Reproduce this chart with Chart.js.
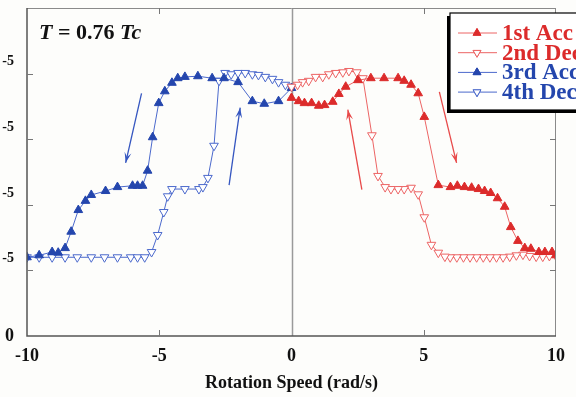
<!DOCTYPE html>
<html><head><meta charset="utf-8">
<script src="https://cdn.jsdelivr.net/npm/chart.js@4/dist/chart.umd.min.js"></script>
<style>html,body{margin:0;padding:0;background:#fdfdfb;}canvas{display:block;}</style>
</head><body>
<canvas id="c" width="576" height="397"></canvas>
<script>
// ---- data ----
const seriesNames = ["1st Acc", "2nd Dec", "3rd Acc", "4th Dec"];
const acc1X = [0,0.27,0.49,0.76,1.03,1.25,1.56,1.79,2.05,2.51,3.0,3.5,4.03,4.26,4.52,4.79,5.02,5.55,6.01,6.27,6.54,6.81,7.07,7.30,7.53,7.79,8.06,8.29,8.56,8.82,9.05,9.35,9.58,9.85,10];
const acc1Y = [3.63,3.58,3.55,3.55,3.51,3.52,3.57,3.69,3.80,3.90,3.93,3.93,3.93,3.89,3.83,3.70,3.34,2.30,2.27,2.29,2.27,2.26,2.24,2.21,2.18,2.10,1.97,1.66,1.45,1.34,1.33,1.28,1.28,1.28,1.23];
const dec2X = [10,9.75,9.5,9.25,9.0,8.75,8.5,8.25,8.0,7.75,7.5,7.25,7.0,6.75,6.5,6.25,6.0,5.8,5.55,5.29,5.02,4.79,4.52,4.26,4.03,3.76,3.54,3.27,3.04,2.70,2.47,2.17,1.94,1.67,1.41,1.18,0.91,0.65,0.42,0.23,0];
const dec2Y = [1.22,1.22,1.21,1.21,1.22,1.24,1.23,1.21,1.20,1.20,1.20,1.20,1.20,1.20,1.20,1.20,1.20,1.21,1.27,1.39,1.81,2.16,2.26,2.24,2.24,2.24,2.27,2.44,3.06,3.93,4.02,4.04,4.02,4.01,3.99,3.95,3.95,3.89,3.87,3.83,3.80];
const acc3X = [0,-0.49,-1.03,-1.48,-2.02,-2.55,-3.0,-3.54,-4.03,-4.30,-4.52,-4.79,-5.02,-5.25,-5.44,-5.63,-5.82,-6.01,-6.58,-7.03,-7.57,-7.79,-8.06,-8.33,-8.56,-8.82,-9.05,-9.54,-10];
const acc3Y = [3.78,3.58,3.54,3.58,3.87,3.93,3.93,3.96,3.95,3.93,3.86,3.73,3.55,3.03,2.52,2.29,2.29,2.29,2.27,2.21,2.15,2.06,1.92,1.59,1.34,1.27,1.28,1.23,1.20];
const dec4X = [-10,-9.54,-9.05,-8.56,-8.10,-7.57,-7.07,-6.58,-6.08,-5.82,-5.55,-5.29,-5.06,-4.83,-4.68,-4.52,-4.03,-3.50,-3.35,-3.16,-2.93,-2.74,-2.51,-2.28,-2.02,-1.75,-1.48,-1.25,-0.99,-0.72,-0.49,-0.23,0];
const dec4Y = [1.20,1.20,1.20,1.20,1.20,1.20,1.20,1.20,1.20,1.20,1.20,1.28,1.54,1.89,2.13,2.24,2.24,2.24,2.27,2.41,2.90,3.89,4.01,3.99,4.01,4.01,3.99,3.98,3.95,3.92,3.87,3.83,3.80];
const xTicks = [-10,-5,0,5,10];
const yTickLabels = ["0","-5","-5","-5","-5",""];
const arrowsData = [ // x1,y1 -> x2,y2 (head at second point), series index for colour
  [-5.67,3.70,-6.27,2.64,2],
  [-2.36,2.30,-1.94,3.48,3],
  [2.66,2.23,2.13,3.45,1],
  [5.59,3.72,6.24,2.64,0]
];
const annotationText = ["T", " = 0.76 ", "Tc"];

// ---- styles ----
const RED = "#dc2b2b", REDL = "#ec6464", BLUE = "#2446ad", BLUEL = "#4b69cc";
const serif = "'Liberation Serif','DejaVu Serif',serif";
const pts = (xs, ys) => xs.map((x, i) => ({x, y: ys[i]}));
const R = 5;

const datasets = [
  {label: seriesNames[0], data: pts(acc1X, acc1Y), borderColor: REDL, backgroundColor: RED, pointBorderColor: RED, pointStyle: 'triangle', rotation: 0, pointRadius: R},
  {label: seriesNames[1], data: pts(dec2X, dec2Y), borderColor: REDL, backgroundColor: "#ffffff", pointBorderColor: REDL, pointStyle: 'triangle', rotation: 180, pointRadius: R},
  {label: seriesNames[2], data: pts(acc3X, acc3Y), borderColor: BLUEL, backgroundColor: BLUE, pointBorderColor: BLUE, pointStyle: 'triangle', rotation: 0, pointRadius: R},
  {label: seriesNames[3], data: pts(dec4X, dec4Y), borderColor: BLUEL, backgroundColor: "#ffffff", pointBorderColor: BLUEL, pointStyle: 'triangle', rotation: 180, pointRadius: R}
].map(d => Object.assign({borderWidth: 1, pointBorderWidth: 1, pointBackgroundColor: d.backgroundColor, showLine: true, tension: 0, fill: false}, d));

const framePlugin = {
  id: 'frame',
  beforeDatasetsDraw(chart) {
    const {ctx, chartArea: a, scales: {x, y}} = chart;
    ctx.save();
    ctx.strokeStyle = "#9a9a9a"; ctx.lineWidth = 1.5;
    const x0 = Math.round(x.getPixelForValue(0)) + 0.5;
    ctx.beginPath(); ctx.moveTo(x0, a.top); ctx.lineTo(x0, a.bottom); ctx.stroke();
    ctx.restore();
  },
  afterDatasetsDraw(chart) {
    const {ctx, chartArea: a, scales: {x, y}} = chart;
    ctx.save();
    ctx.lineWidth = 1;
    ctx.strokeStyle = "#8a8a8a";
    ctx.beginPath(); ctx.moveTo(a.left, a.top + 0.5); ctx.lineTo(a.right, a.top + 0.5); ctx.moveTo(a.right - 0.5, a.top); ctx.lineTo(a.right - 0.5, a.bottom); ctx.stroke();
    ctx.strokeStyle = "#555"; ctx.lineWidth = 1.5;
    ctx.beginPath(); ctx.moveTo(a.left, a.top); ctx.lineTo(a.left, a.bottom); ctx.lineTo(a.right, a.bottom); ctx.stroke();
    ctx.lineWidth = 1; ctx.strokeStyle = "#777";
    const L = 6;
    for (let v = 1; v <= 4; v++) {
      const py = Math.round(y.getPixelForValue(v)) + 0.5;
      ctx.beginPath(); ctx.moveTo(a.left, py); ctx.lineTo(a.left + L, py); ctx.moveTo(a.right, py); ctx.lineTo(a.right - L, py); ctx.stroke();
    }
    for (const v of [-5, 5]) {
      const px = Math.round(x.getPixelForValue(v)) + 0.5;
      ctx.beginPath(); ctx.moveTo(px, a.top); ctx.lineTo(px, a.top + L); ctx.moveTo(px, a.bottom); ctx.lineTo(px, a.bottom - L); ctx.stroke();
    }
    for (const [x1, y1, x2, y2, si] of arrowsData) {
      const p1 = [x.getPixelForValue(x1), y.getPixelForValue(y1)];
      const p2 = [x.getPixelForValue(x2), y.getPixelForValue(y2)];
      const col = si < 2 ? "#e84a4a" : "#3556c0";
      ctx.strokeStyle = col; ctx.fillStyle = col; ctx.lineWidth = 1.3;
      const ang = Math.atan2(p2[1] - p1[1], p2[0] - p1[0]);
      ctx.beginPath(); ctx.moveTo(p1[0], p1[1]); ctx.lineTo(p2[0], p2[1]); ctx.stroke();
      const hl = 11, hw = 0.32;
      ctx.beginPath();
      ctx.moveTo(p2[0], p2[1]);
      ctx.lineTo(p2[0] - hl * Math.cos(ang - hw), p2[1] - hl * Math.sin(ang - hw));
      ctx.lineTo(p2[0] - 0.55 * hl * Math.cos(ang), p2[1] - 0.55 * hl * Math.sin(ang));
      ctx.lineTo(p2[0] - hl * Math.cos(ang + hw), p2[1] - hl * Math.sin(ang + hw));
      ctx.closePath(); ctx.fill();
    }
    ctx.fillStyle = "#111"; ctx.textBaseline = "alphabetic"; ctx.textAlign = "left";
    let tx = 39; const ty = 39;
    const fonts = ["italic bold 22px " + serif, "bold 22px " + serif, "italic bold 22px " + serif];
    annotationText.forEach((t, i) => { ctx.font = fonts[i]; ctx.fillText(t, tx, ty); tx += ctx.measureText(t).width; });
    const bx = 450, by = 13, bw = 160, bh = 97;
    ctx.fillStyle = "#000"; ctx.fillRect(bx - 3, by + 3, bw, bh);
    ctx.fillStyle = "#fff"; ctx.fillRect(bx, by, bw, bh);
    ctx.strokeStyle = "#000"; ctx.lineWidth = 1.2; ctx.strokeRect(bx, by, bw, bh);
    chart.data.datasets.forEach((d, i) => {
      const ly = 33 + i * 19.7;
      ctx.strokeStyle = d.borderColor; ctx.lineWidth = 1;
      ctx.beginPath(); ctx.moveTo(458, ly); ctx.lineTo(497, ly); ctx.stroke();
      Chart.helpers.drawPoint(ctx, {pointStyle: 'triangle', rotation: d.rotation, radius: 4.5, borderWidth: 1}, 477, ly);
      ctx.fillStyle = d.backgroundColor; ctx.strokeStyle = d.pointBorderColor;
      ctx.fill(); ctx.stroke();
      ctx.font = "bold 23px " + serif; ctx.textBaseline = "middle";
      ctx.fillStyle = i < 2 ? RED : BLUE;
      ctx.fillText(d.label, 502, ly + 1);
    });
    ctx.restore();
  }
};

new Chart(document.getElementById('c'), {
  type: 'scatter',
  data: {datasets},
  plugins: [framePlugin],
  options: {
    responsive: false, animation: false,
    layout: {padding: {top: 8, right: 20, left: 0, bottom: 0}},
    plugins: {legend: {display: false}, tooltip: {enabled: false}},
    scales: {
      x: {
        type: 'linear', min: -10, max: 10,
        afterBuildTicks: s => { s.ticks = xTicks.map(v => ({value: v})); },
        afterFit: s => { s.height = 61; },
        grid: {display: false}, border: {display: false},
        ticks: {color: "#111", padding: 2, maxRotation: 0, font: {family: serif, size: 18, weight: 'bold'}},
        title: {display: true, text: "Rotation Speed (rad/s)", color: "#111", font: {family: serif, size: 18, weight: 'bold'}, padding: {top: 0, bottom: 3}}
      },
      y: {
        type: 'linear', min: 0, max: 5,
        ticks: {
          stepSize: 1, color: "#111", padding: 5,
          callback: (v) => { const l = yTickLabels[Math.round(v)]; return (v === 0 || v === 5) ? l : [l, ""]; },
          font: (c) => (c.tick && (c.tick.value === 0 || c.tick.value === 5)) ? {family: serif, size: 18, weight: 'bold'} : {family: serif, size: 14, weight: 'bold', lineHeight: 1.7}
        },
        afterFit: s => { s.width = 27; s.paddingTop = 0; s.paddingBottom = 0; },
        grid: {display: false}, border: {display: false}
      }
    }
  }
});
</script>
</body></html>
